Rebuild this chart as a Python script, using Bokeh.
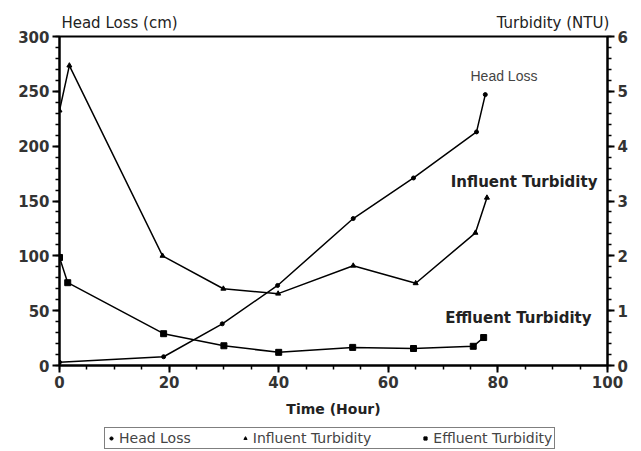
from bokeh.plotting import figure
from bokeh.layouts import column
from bokeh.models import Range1d, LinearAxis, Label, Legend, LegendItem, FixedTicker
from bokeh.embed import file_html
from bokeh.resources import INLINE

# Head loss (cm) vs time (hour)
hl_time = [0, 19, 29.7, 39.8, 53.6, 64.6, 76.1, 77.7]
hl_cm = [3, 8, 38, 73, 134, 171, 213, 247]

# Influent turbidity (NTU)
inf_time = [0, 1.8, 18.8, 29.9, 39.9, 53.6, 65, 75.9, 78]
inf_ntu = [4.65, 5.47, 2.0, 1.40, 1.31, 1.82, 1.50, 2.42, 3.06]

# Effluent turbidity (NTU)
eff_time = [0, 1.5, 19, 30, 40, 53.5, 64.6, 75.5, 77.4]
eff_ntu = [1.97, 1.51, 0.58, 0.36, 0.24, 0.33, 0.31, 0.35, 0.51]

x_ticks = [0, 20, 40, 60, 80, 100]
left_ticks = [0, 50, 100, 150, 200, 250, 300]
right_ticks = [0, 1, 2, 3, 4, 5, 6]

left_title = "Head Loss (cm)"
right_title = "Turbidity (NTU)"
series_names = ["Head Loss", "Influent Turbidity", "Effluent Turbidity"]

FONT = "DejaVu Sans"

p = figure(frame_width=548, frame_height=329, output_backend="svg", toolbar_location=None,
           x_range=Range1d(0, 100), y_range=Range1d(0, 300),
           min_border_left=59, min_border_right=34, min_border_top=36, min_border_bottom=0)
p.extra_y_ranges = {"ntu": Range1d(0, 6)}
p.xgrid.visible = False
p.ygrid.visible = False
p.outline_line_color = "black"
p.outline_line_width = 2
p.background_fill_color = "white"

# axes styling
p.xaxis.ticker = FixedTicker(ticks=x_ticks, minor_ticks=[i * 5 for i in range(21)])
p.yaxis.ticker = FixedTicker(ticks=left_ticks, minor_ticks=[i * 10 for i in range(31)])
p.xaxis.axis_label = "Time (Hour)"

ra = LinearAxis(y_range_name="ntu",
                ticker=FixedTicker(ticks=right_ticks, minor_ticks=[i * 0.2 for i in range(31)]))
p.add_layout(ra, "right")

for ax in [p.xaxis[0], p.yaxis[0], ra]:
    ax.axis_line_color = "black"
    ax.axis_line_width = 2
    ax.major_tick_line_width = 2
    ax.major_tick_out = 7
    ax.major_tick_in = 0
    ax.minor_tick_in = 0
    ax.minor_tick_out = 4
    ax.minor_tick_line_width = 1.5
    ax.major_label_text_font = FONT
    ax.major_label_text_font_size = "15px"
    ax.major_label_text_font_style = "bold"
    ax.major_label_text_color = "#333333"
    ax.major_label_standoff = 3

p.xaxis.axis_label_text_font = FONT
p.xaxis.axis_label_text_font_size = "14px"
p.xaxis.axis_label_text_font_style = "bold"
p.xaxis.axis_label_text_color = "#222222"
p.xaxis.axis_label_standoff = 10

# axis titles above the frame (as labels of a bare top axis)
top = LinearAxis(ticker=FixedTicker(ticks=[10.95, 90.05]),
                 major_label_overrides={10.95: left_title, 90.05: right_title},
                 axis_line_color=None, major_tick_line_color=None, minor_tick_line_color=None,
                 major_tick_out=0, major_tick_in=0, minor_tick_out=0, minor_tick_in=0,
                 major_label_standoff=5, major_label_text_font=FONT,
                 major_label_text_font_size="15px", major_label_text_color="#222222")
p.add_layout(top, "above")

# series
p.line(hl_time, hl_cm, line_color="black", line_width=1.5)
p.scatter(hl_time, hl_cm, marker="circle", size=4, color="black")

p.line(inf_time, inf_ntu, line_color="black", line_width=1.5, y_range_name="ntu")
p.scatter(inf_time, inf_ntu, marker="triangle", size=5, color="black", y_range_name="ntu")

p.line(eff_time, eff_ntu, line_color="black", line_width=1.5, y_range_name="ntu")
p.scatter(eff_time, eff_ntu, marker="square", size=6, color="black", y_range_name="ntu")

# in-plot labels
p.add_layout(Label(x=75, y=264, text="Head Loss", text_font="Liberation Sans",
                   text_font_size="14px", text_baseline="middle", text_align="left"))
p.add_layout(Label(x=71.4, y=167, text="Influent Turbidity", text_font=FONT,
                   text_font_size="15px", text_font_style="bold", text_color="#222222",
                   text_baseline="middle", text_align="left"))
p.add_layout(Label(x=70.4, y=43, text="Effluent Turbidity", text_font=FONT,
                   text_font_size="15px", text_font_style="bold", text_color="#222222",
                   text_baseline="middle", text_align="left"))

# legend strip below the chart (series drawn out of view, only their legend glyphs show)
lg = figure(width=641, height=34, output_backend="svg", toolbar_location=None,
            x_range=Range1d(0, 100), y_range=Range1d(1000, 1001),
            x_axis_location=None, y_axis_location=None,
            min_border=0, min_border_left=0, min_border_right=0, min_border_top=0, min_border_bottom=0)
lg.grid.visible = False
lg.outline_line_color = None
g_hl = lg.scatter(hl_time, hl_cm, marker="circle", size=4, color="black")
g_inf = lg.scatter(inf_time, inf_ntu, marker="triangle", size=5, color="black")
g_eff = lg.scatter(eff_time, eff_ntu, marker="square", size=5, color="black")

legend = Legend(items=[LegendItem(label=series_names[0], renderers=[g_hl]),
                       LegendItem(label=series_names[1], renderers=[g_inf]),
                       LegendItem(label=series_names[2], renderers=[g_eff])],
                orientation="horizontal", location=(45, 4),
                border_line_color="black", border_line_width=1.5,
                label_text_font=FONT, label_text_font_size="14px",
                glyph_width=8, glyph_height=8, label_standoff=4, spacing=50,
                padding=2, margin=0)
lg.add_layout(legend)

layout = column(p, lg, spacing=0)
open("out.html", "w").write(file_html(layout, INLINE))
